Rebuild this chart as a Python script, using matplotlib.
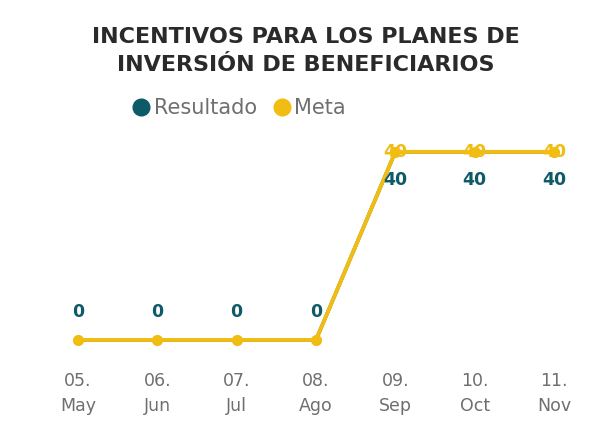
import matplotlib
matplotlib.use("Agg")
import matplotlib.pyplot as plt
from matplotlib.lines import Line2D

categories = ["05.\nMay", "06.\nJun", "07.\nJul", "08.\nAgo", "09.\nSep", "10.\nOct", "11.\nNov"]
resultado = [0, 0, 0, 0, 40, 40, 40]
meta = [0, 0, 0, 0, 40, 40, 40]

TEAL = "#0f5a68"
YELLOW = "#f2bd12"
GRAY = "#6f6f6f"

plt.rcParams['font.family'] = ['DejaVu Sans']

fig = plt.figure(figsize=(5.99, 4.23), dpi=100)
ax = fig.add_axes([0, 0.149, 1, 0.544])
x = list(range(len(categories)))

ax.plot(x, resultado, color=TEAL, lw=2.5, marker='o', ms=6, zorder=2)
ax.plot(x, meta, color=YELLOW, lw=2.8, marker='o', ms=7, zorder=3)

for xi, v in zip(x, resultado):
    off = 20 if v == 0 else -20
    ax.annotate(str(v), (xi, v), xytext=(0, off), textcoords='offset points',
                ha='center', va='center', color=TEAL, fontsize=12.5, fontweight='bold')
for xi, v in zip(x, meta):
    if v > 0:
        ax.annotate(str(v), (xi, v), xytext=(0, 0), textcoords='offset points',
                    ha='center', va='center', color=YELLOW, fontsize=12.5, fontweight='bold', zorder=2.5)

ax.set_xlim(-0.983, 6.567)
ax.set_ylim(-4.26, 44.68)
ax.set_xticks(x)
ax.set_xticklabels(categories, color=GRAY, fontsize=12.5, linespacing=1.45)
ax.tick_params(axis='x', length=0, pad=9)
ax.set_yticks([])
for s in ax.spines.values():
    s.set_visible(False)

fig.text(0.511, 0.879, "INCENTIVOS PARA LOS PLANES DE\nINVERSIÓN DE BENEFICIARIOS",
         ha='center', va='center', fontsize=16, fontweight='bold', color="#2a2a2a",
         linespacing=1.5)

handles = [Line2D([], [], marker='o', ls='none', color=TEAL, ms=12),
           Line2D([], [], marker='o', ls='none', color=YELLOW, ms=12)]
fig.legend(handles, ["Resultado", "Meta"], loc='center', bbox_to_anchor=(0.398, 0.745),
           ncol=2, frameon=False, fontsize=15, handletextpad=0.1, columnspacing=0.7,
           labelcolor=GRAY, handlelength=1.0)

fig.savefig("out.png", dpi=100)
